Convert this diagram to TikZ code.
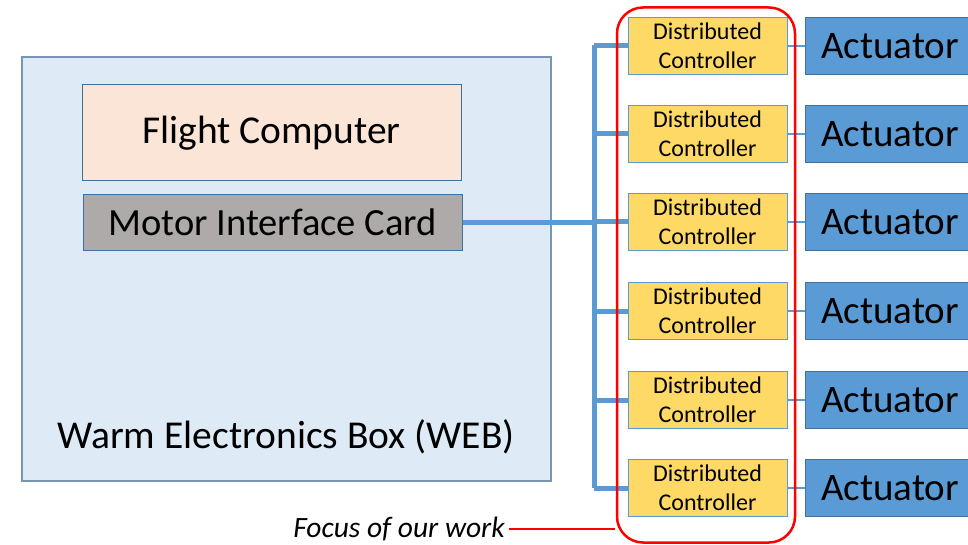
\documentclass[tikz,border=0pt]{standalone}
\usepackage{fontspec}
\setmainfont{Carlito}
\definecolor{webfill}{HTML}{DEEBF7}
\definecolor{webline}{HTML}{7895B4}
\definecolor{fcfill}{HTML}{FBE5D6}
\definecolor{boxline}{HTML}{41719C}
\definecolor{micfill}{HTML}{AEAAAA}
\definecolor{busblue}{HTML}{5B9BD5}
\definecolor{dcfill}{HTML}{FFD966}
\definecolor{actfill}{HTML}{5B9BD5}
\begin{document}
\begin{tikzpicture}[x=1pt,y=-1pt,
  webbox/.style={draw=webline,fill=webfill,line width=1.2pt,minimum width=529pt,minimum height=424pt,inner sep=0pt},
  fcbox/.style={draw=boxline,fill=fcfill,line width=1pt,minimum width=379pt,minimum height=96pt,inner sep=0pt,font=\fontsize{39.5}{41}\selectfont},
  micbox/.style={draw=boxline,fill=micfill,line width=1pt,minimum width=379pt,minimum height=55pt,inner sep=0pt,font=\fontsize{38.5}{40}\selectfont},
  dcbox/.style={draw=busblue,fill=dcfill,line width=1pt,minimum width=159pt,minimum height=57pt,inner sep=0pt,align=center,font=\fontsize{24}{29.5}\selectfont},
  actbox/.style={draw=boxline,fill=actfill,line width=1pt,minimum width=170pt,minimum height=57pt,inner sep=0pt,font=\fontsize{39}{40}\selectfont},
  bus/.style={draw=busblue,line width=5pt},
  thinlink/.style={draw=busblue,line width=2pt},
  focus/.style={draw=red,line width=2.5pt,rounded corners=26pt},
]
\useasboundingbox (0,0) rectangle (968,545);
\fill[white] (0,0) rectangle (968,545);
\begin{scope}
\clip (0,0) rectangle (968,545);
\node[webbox] (web) at (286.5,269) {};
\node[font=\fontsize{39.5}{41}\selectfont] (weblabel) at (286,437) {Warm Electronics Box (WEB)};
\node[fcbox] (fc) at (271.5,133) {Flight Computer};
\node[micbox] (mic) at (272.5,222.5) {Motor Interface Card};

\coordinate (bustop) at (594,45);
\coordinate (busbot) at (594,488);
\coordinate (busmid) at (594,222.5);
\draw[bus] (mic.east) -- (busmid);
\draw[bus] (bustop) -- (busbot);

\foreach \i/\y in {1/46,2/134,3/222,4/311,5/400,6/488}{
  \node[dcbox] (dc\i) at (707.5,\y) {Distributed\\Controller};
  \node[actbox] (act\i) at (890,\y) {Actuator};
  \coordinate (tap\i) at (594,\y);
  \draw[bus] (tap\i) -- (dc\i.west);
  \draw[thinlink] (dc\i.east) -- (act\i.west);
}

\node[focus,draw,minimum width=178pt,minimum height=535pt,inner sep=0pt] (focusbox) at (706,275) {};
\node[font=\fontsize{29.5}{31}\selectfont\itshape,anchor=east,inner sep=2pt] (focuslabel) at (507,529) {Focus of our work};
\coordinate (focusend) at (focusbox.west |- focuslabel.east);
\draw[red,line width=2pt] ([xshift=2pt]focuslabel.east) -- ([xshift=-1pt]focusend);
\end{scope}
\end{tikzpicture}
\end{document}
